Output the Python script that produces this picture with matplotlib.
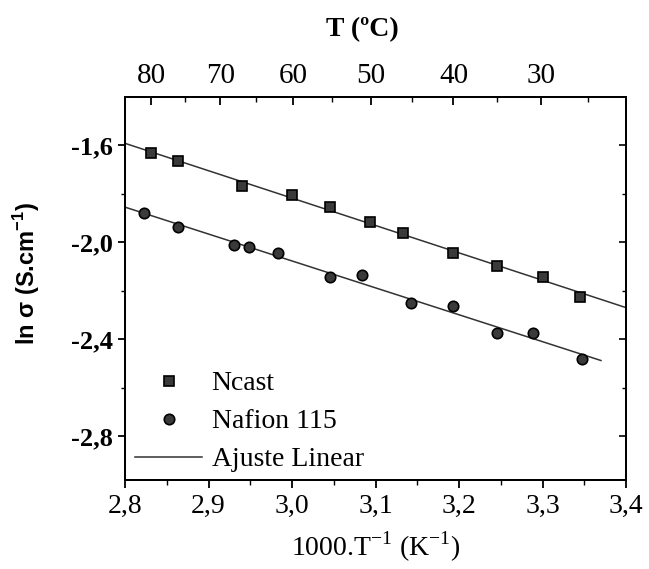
import numpy as np
import matplotlib
matplotlib.use("Agg")
import matplotlib.pyplot as plt
from matplotlib.ticker import MultipleLocator, FuncFormatter

# Data
ncast_x = [2.831, 2.863, 2.940, 3.000, 3.046, 3.093, 3.133, 3.193, 3.245, 3.300, 3.345]
ncast_y = [-1.634, -1.666, -1.768, -1.807, -1.854, -1.916, -1.964, -2.047, -2.098, -2.143, -2.226]
nafion_x = [2.823, 2.864, 2.930, 2.949, 2.983, 3.046, 3.084, 3.143, 3.193, 3.245, 3.289, 3.347]
nafion_y = [-1.882, -1.937, -2.012, -2.019, -2.047, -2.143, -2.136, -2.253, -2.264, -2.376, -2.376, -2.484]
ncast_fit_range = [2.80, 3.40]
nafion_fit_range = [2.80, 3.37]
top_major_T = [80, 70, 60, 50, 40, 30]
top_minor_T = [75, 65, 55, 45, 35, 25]
labels = ["Ncast", "Nafion 115", "Ajuste Linear"]

serif = "Liberation Serif"
plt.rcParams['font.family'] = [serif, 'DejaVu Serif']
plt.rcParams['axes.unicode_minus'] = False

W, H = 649, 569
fig = plt.figure(figsize=(W/100, H/100), dpi=100)
ax = fig.add_axes([125/W, 1-480/H, 501/W, 383/H])

comma = FuncFormatter(lambda v, p: f"{v:.1f}".replace(".", ","))

ax.plot(ncast_x, ncast_y, ls='none', marker='s', ms=7, mfc='#3a3a3a', mec='black', mew=1.2, label=labels[0], zorder=3)
ax.plot(nafion_x, nafion_y, ls='none', marker='o', ms=7.5, mfc='#3a3a3a', mec='black', mew=1.2, label=labels[1], zorder=3)

p1 = np.polyfit(ncast_x, ncast_y, 1)
p2 = np.polyfit(nafion_x, nafion_y, 1)
xr1 = np.array(ncast_fit_range)
xr2 = np.array(nafion_fit_range)
ax.plot(xr1, np.polyval(p1, xr1), color='#333333', lw=1.1, label=labels[2], zorder=2)
ax.plot(xr2, np.polyval(p2, xr2), color='#333333', lw=1.1, zorder=2)

ax.set_xlim(2.8, 3.4)
ax.set_ylim(-2.981, -1.402)
ax.xaxis.set_major_locator(MultipleLocator(0.1))
ax.xaxis.set_minor_locator(MultipleLocator(0.05))
ax.yaxis.set_major_locator(MultipleLocator(0.4))
ax.yaxis.set_minor_locator(MultipleLocator(0.2))
ax.xaxis.set_major_formatter(comma)
ax.yaxis.set_major_formatter(comma)
ax.tick_params(axis='x', which='major', direction='out', length=6, width=1.3, labelsize=20, pad=4)
ax.tick_params(axis='x', which='minor', direction='out', length=3.5, width=1.0)
ax.tick_params(axis='y', which='major', direction='out', length=5, width=1.3, labelsize=19, pad=4)
ax.tick_params(axis='y', which='minor', direction='out', length=3, width=1.0)
for lab in ax.get_yticklabels():
    lab.set_fontweight('bold')
for s in ax.spines.values():
    s.set_linewidth(1.4)

# right-side inward ticks
rax = ax.secondary_yaxis('right')
rax.yaxis.set_major_locator(MultipleLocator(0.4))
rax.yaxis.set_minor_locator(MultipleLocator(0.2))
rax.tick_params(which='major', direction='in', length=5, width=1.2, labelright=False)
rax.tick_params(which='minor', direction='in', length=3, width=1.0)
rax.spines['right'].set_linewidth(1.4)

ax.set_xlabel("1000.T$^{\\mathregular{-1}}$ (K$^{\\mathregular{-1}}$)", fontsize=20, labelpad=8)
ax.set_ylabel("ln σ (S.cm$^{\\mathregular{-1}}$)", fontsize=17, fontweight='bold',
              family=['Liberation Sans', 'DejaVu Sans'])
ax.yaxis.set_label_coords((42-125)/501, (480-273)/383)

# Top temperature axis
def t_to_x(T):
    return 1000.0 / (np.asarray(T, dtype=float) + 273.15)

top = ax.twiny()
top.set_xlim(ax.get_xlim())
top.set_xticks(t_to_x(top_major_T))
top.set_xticklabels([str(t) for t in top_major_T])
top.set_xticks(t_to_x(top_minor_T), minor=True)
top.tick_params(axis='x', which='major', direction='in', length=6, width=1.3, labelsize=21, pad=6)
top.tick_params(axis='x', which='minor', direction='in', length=3.5, width=1.0)
top.set_xlabel("T (ºC)", fontsize=20, fontweight='bold')
top.xaxis.set_label_coords((362-125)/501, 1.0 + (97-42)/383)
top.xaxis.label.set_va('bottom')
for s in top.spines.values():
    s.set_linewidth(1.4)

leg = ax.legend(loc='lower left', bbox_to_anchor=(-0.01, -0.02), frameon=False, fontsize=20,
                handlelength=2.4, handletextpad=0.35, labelspacing=0.45, borderaxespad=0.15)

fig.savefig("out.png", dpi=100)
